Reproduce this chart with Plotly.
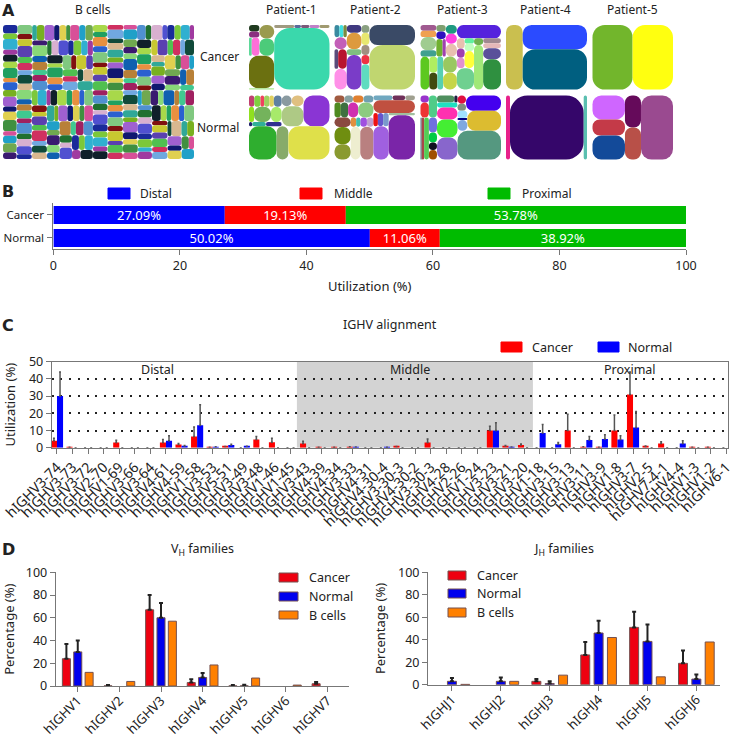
import plotly.graph_objects as go

W, H = 734, 737
FONT = "Noto Sans"
TXT = "#222222"

# ---- panel A, treemap cell areas (px^2) and colours, lists nest as groups
P1_CANCER = [
    [[[(67, "#1f3a1f"), (62, "#8a2f80"), [(50, "#5fd89a"), (140, "#ff6fd8")]],
      [(198, "#9a9a4f"), (257, "#4ccb7a")]],
     (817, "#6b7010"), (32, "#a8e890")],
    [[(60, "#a09a80"), (20, "#5a6a9a"), (25, "#7a5a7a"), (30, "#c080c8"), (30, "#a09a70")],
     (3394, "#3ad8ac")],
]
P1_NORMAL = [
    [[[(60, "#c04070"), (70, "#7fd040"), (40, "#f04060"), (60, "#a0d060"), (50, "#e0d060"), (88, "#6080a0")],
      [(77, "#90e020"), (261, "#74b35c"), (163, "#a7ea6a")],
      [(13, "#20206a"), (57, "#30b098"), (65, "#303090")]],
     [[(107, "#8a9aa0"), (128, "#e0c080")], (440, "#aec985")],
     (798, "#8a35d4")],
    [(922, "#2fae2f"), (390, "#87ab6a"), (1375, "#dfe04a")],
]
P2_CANCER = [
    [[(60, "#3a8aa0"), (50, "#40e0e0"), (41, "#7a8a40")], (148, "#c35fb8"),
     [(73, "#5a4a7a"), (169, "#b8142e")], (255, "#ff90e8")],
    [(113, "#403a80"), (245, "#dd9a3e"), (84, "#7fbf7f"), (510, "#7a3cc8")],
    [(62, "#8aa080"), (98, "#e8e870"), (80, "#a09080"), (74, "#ee3344"), (202, "#5fdcc0")],
    [(914, "#3a4a66"), (2043, "#c0d670")],
]
P2_NORMAL = [
    [[(70, "#a05a40"), (60, "#88a0a0"), (73, "#e08030"), (70, "#70a0b0")],
     [(95, "#4e8a20"), (110, "#3f7040"), (150, "#d030b0"), (230, "#8ccb80")],
     [[(155, "#8a4a40"), (281, "#6f8e10"), (248, "#8a9a30")],
      [[(50, "#e09040"), (40, "#40c0b0"), (60, "#a050e0"), (60, "#c0a0d0")],
       [(313, "#eeeed0"), (431, "#b98080")]]]],
    [[(90, "#70a8c0"), (60, "#70305a"), (46, "#a0a090")],
     (530, "#c05040"),
     [[[(60, "#ee1111"), (70, "#6655cc"), (74, "#7a99cc")], (509, "#a060e0")],
      [(61, "#a0c0a0"), (1169, "#7a25a8")]]],
]
P3_CANCER = [
    [[[(90, "#a05a90"), (100, "#f0a050"), (207, "#a0cc90"), (100, "#40a090")],
      [(60, "#80a070"), (70, "#3010c0"), [(110, "#70b030"), (55, "#a040b0")]],
      [(98, "#1f9a80"), (110, "#ff40e0"), (141, "#e8c0b0")]],
     [(287, "#5cc820"), [(130, "#b0ee60"), (134, "#404a10")], (188, "#58d0b0"),
      [(218, "#99c860"), (231, "#c5d548")]]],
    [(581, "#5522dd"),
     [[[[(80, "#e8c0b0"), (70, "#a040b0"), (81, "#e090d0")],
        [(50, "#60f0a0"), (70, "#c0ffc0"), (159, "#ffff3a")]],
       (364, "#6fd090")],
      [(60, "#70b050"), (403, "#a0e878")],
      [(88, "#a08890"), (88, "#e5b8b8"), (195, "#5a509a"), (538, "#2f9040")]]],
]
P3_NORMAL = [
    [(58, "#9933cc"), (125, "#ee3333"), [(50, "#557080"), (100, "#a84848"), (198, "#55cc55")]],
    [(176, "#50cc88"), (120, "#7070e0"), (80, "#00cc44"), (60, "#101020"), (76, "#a05000")],
    [[(120, "#4f8f5f"), (22, "#202040")], (100, "#20e0c0"), (243, "#ff30b0"),
     (365, "#44ee33"), (449, "#8866cc")],
    [[[(70, "#e01040"), (59, "#809080")], (529, "#4400ee")],
     [[(70, "#a0e0ff"), (20, "#000080"), (105, "#80a8e0")], (667, "#dcbc30")],
     (1232, "#559880")],
]
P4_CANCER = [(1069, "#cabf4f"), [(1543, "#2b4bff"), (2572, "#005f80")]]
P4_NORMAL = [(256, "#e8208a"), (4717, "#35066a"), (211, "#5abfb0")]
P5_CANCER = [(2560, "#72b62c"), (2580, "#ffff10")]
P5_NORMAL = [
    [(775, "#cf66ff"), (526, "#c43a48"), (775, "#134a99")],
    [(512, "#650a5a"), (512, "#b85048")],
    (2048, "#9a4a90"),
]

# B cells repertoire, four blocks of small clones
BCELLS_TOP_LEFT = [120, 80, 150, 70, 100, 90, 140, 60, 110, 130, 75, 95, 160, 85, 105, 65, 125, 90, 70, 115,
                   145, 80, 100, 60, 135, 95, 110, 75, 155, 85, 120, 70, 90, 130, 65, 100, 140, 80, 110, 95,
                   75, 125, 60, 150, 105, 85, 115, 70, 135, 90, 100, 80, 120, 65, 110, 130]
BCELLS_BOTTOM_LEFT = [90, 130, 70, 110, 150, 60, 100, 125, 85, 140, 75, 95, 115, 65, 160, 80, 105, 120, 70, 90,
                      135, 60, 100, 145, 85, 110, 75, 130, 95, 65, 125, 80, 155, 70, 105, 90, 115, 60, 140, 85,
                      100, 75, 130, 110, 65, 120, 95, 80, 150, 70, 105, 125, 90, 60, 135, 100, 85, 115, 75, 110]
BCELLS_TOP_RIGHT = [100, 70, 130, 85, 150, 60, 110, 95, 125, 75, 140, 65, 105, 120, 80, 90, 155, 70, 115, 60,
                    135, 100, 85, 75, 145, 110, 65, 95, 125, 80, 160, 70, 105, 90, 130, 60, 115, 85, 140, 75,
                    100, 120, 65, 95, 150, 80, 110, 70, 135, 90, 60, 125, 105, 85, 145, 75, 115, 65, 100, 130,
                    80, 95, 120, 70]
BCELLS_BOTTOM_RIGHT = [75, 120, 95, 60, 140, 105, 85, 130, 70, 110, 155, 65, 100, 90, 125, 80, 145, 60, 115, 95,
                       70, 135, 85, 105, 65, 150, 100, 75, 120, 90, 60, 130, 110, 80, 160, 70, 95, 125, 65, 105,
                       85, 140, 75, 115, 60, 100, 135, 90, 70, 120, 80, 150, 65, 110, 95, 125, 75, 105, 60, 145,
                       85, 100, 130, 70, 115, 90, 65, 120]
BCELL_COLORS = ["#1a2a9a", "#7cc83a", "#30b0d0", "#a03aa0", "#10202a", "#a8d84a", "#20a060", "#e89040",
                "#2a60d0", "#80c880", "#801010", "#c8c830", "#5a40b0", "#50c050", "#d03060", "#70a8e0",
                "#104a3a", "#d8b890", "#30a898", "#78b020", "#a060d0", "#101870", "#e0d050", "#409040",
                "#d85098", "#20a0c8", "#70a850", "#3a1a70", "#88d878", "#1060b0", "#b88038", "#40c890",
                "#a02060", "#5090d0", "#207030", "#d8b0d0", "#5050d0"]

# ---- panel B
STACK_CATS = ["Normal", "Cancer"]
STACK_SERIES = ["Distal", "Middle", "Proximal"]
STACK_VALUES = [[50.02, 27.09], [11.06, 19.13], [38.92, 53.78]]
STACK_COLORS = ["#0000ff", "#ff0000", "#00bb00"]

# ---- panel C
IGHV_LABELS = ["hIGHV3-74", "hIGHV3-73", "hIGHV3-72", "hIGHV2-70", "hIGHV1-69", "hIGHV3-66", "hIGHV3-64",
               "hIGHV4-61", "hIGHV4-59", "hIGHV1-58", "hIGHV3-53", "hIGHV5-51", "hIGHV3-49", "hIGHV3-48",
               "hIGHV1-46", "hIGHV1-45", "hIGHV3-43", "hIGHV4-39", "hIGHV4-34", "hIGHV3-33", "hIGHV4-31",
               "hIGHV4-30-4", "hIGHV3-30-3", "hIGHV4-30-2", "hIGHV3-30-3", "hIGHV4-28", "hIGHV2-26",
               "hIGHV1-24", "hIGHV3-23", "hIGHV3-21", "hIGHV3-20", "hIGHV1-18", "hIGHV3-15", "hIGHV3-13",
               "hIGHV3-11", "hIGHV3-9", "hIGHV1-8", "hIGHV3-7", "hIGHV2-5", "hIGHV7-4-1", "hIGHV4-4",
               "hIGHV1-3", "hIGHV1-2", "hIGHV6-1"]
IGHV_CANCER = [4, 0.3, 0, 0, 3, 0, 0, 3, 1.8, 6.5, 0.3, 0.7, 0, 4.8, 3.2, 0, 2.5, 0.3, 0.3, 0.5, 0, 0, 0.7, 0,
               3, 0, 0, 0, 10, 1, 1.5, 0, 0, 10, 0.5, 0.2, 10, 31, 0.7, 2.5, 0, 0.2, 0.3, 0]
IGHV_CANCER_ERR = [1.5, None, None, None, 1.3, None, None, 1.8, 0.7, 5.5, None, None, None, 1.7, 2.3, None,
                   1.2, None, None, None, None, None, None, None, 2, None, None, None, 2.5, 0.3, 0.7, None,
                   None, 9.5, None, None, 9, 13, 0.3, 1, None, None, None, None]
IGHV_NORMAL = [30, 0, 0, 0, 0, 0, 0, 4, 1, 13, 0.5, 1.5, 0.8, 0, 0, 0, 0, 0, 0, 0.4, 0, 0.3, 0, 0,
               0, 0, 0, 0, 10, 0.4, 0, 8.5, 2, 0, 4.5, 5, 4.7, 11.8, 0, 0, 2.5, 0, 0, 0]
IGHV_NORMAL_ERR = [14, None, None, None, None, None, None, 3, 0.3, 12, None, 0.5, None, None, None, None, None,
                   None, None, None, None, None, None, None, None, None, None, None, 4.5, None, None, 5, 1,
                   None, 2, 2.5, 2.3, 9.2, None, None, 1.5, None, None, None]

# ---- panel D
VH_LABELS = ["hIGHV1", "hIGHV2", "hIGHV3", "hIGHV4", "hIGHV5", "hIGHV6", "hIGHV7"]
VH_CANCER = [24, 0.1, 67, 3, 0.1, None, 2]
VH_CANCER_ERR = [13, 0.7, 13, 3, 0.7, None, 1.5]
VH_NORMAL = [30, None, 60, 7.5, 0.1, None, None]
VH_NORMAL_ERR = [10, None, 13, 4, 0.9, None, None]
VH_BCELLS = [12, 4, 57, 18.5, 7, 0.8, None]

JH_LABELS = ["hIGHJ1", "hIGHJ2", "hIGHJ3", "hIGHJ4", "hIGHJ5", "hIGHJ6"]
JH_CANCER = [None, None, 3, 26.5, 51, 19]
JH_CANCER_ERR = [None, None, 2, 11.5, 14, 11.5]
JH_NORMAL = [3, 3, 1, 46, 38.5, 5]
JH_NORMAL_ERR = [3, 3.5, 2, 11, 15, 4]
JH_BCELLS = [0.3, 3, 8.5, 42, 7, 38]


def px_x(x0, x1):
    return [max(x0 / W, 0), min(x1 / W, 1)]


def px_y(y0, y1):
    return [max(1 - y1 / H, 0), min(1 - y0 / H, 1)]


def node_sum(node):
    if isinstance(node, tuple):
        return node[0]
    return sum(node_sum(c) for c in node)


# plotly only rounds treemap cells up to marker.pad, and pad insets every nesting level,
# so each flat set of cells gets its own trace and transparent root, grown by the pad
def add_flat(fig, values, colors, x0, x1, y0, y1, radius, packing="squarify", ratio=None):
    ids = ["root"] + ["c%d" % i for i in range(len(values))]
    tiling = dict(packing=packing, pad=0)
    if ratio:
        tiling["squarifyratio"] = ratio
    fig.add_trace(go.Treemap(
        ids=ids, labels=[""] * len(ids), parents=[""] + ["root"] * len(values), values=[sum(values)] + list(values),
        branchvalues="total", sort=False, textinfo="none", hoverinfo="skip",
        marker=dict(colors=["rgba(0,0,0,0)"] + list(colors), line=dict(width=0), cornerradius=radius,
                    depthfade=False, pad=dict(t=radius, l=radius, r=radius, b=radius)),
        tiling=tiling, pathbar=dict(visible=False),
        domain=dict(x=px_x(x0 - radius, x1 + radius), y=px_y(y0 - radius, y1 + radius)),
    ))


def add_panel(fig, node, x0, x1, y0, y1, across=True):
    if isinstance(node, tuple):
        side = min(x1 - x0, y1 - y0)
        radius = max(min(side * 0.5, 3.5 + side * 0.22), 0.5)
        add_flat(fig, [node[0]], [node[1]], x0, x1, y0, y1, radius, packing="dice")
        return
    total = node_sum(node)
    pos = x0 if across else y0
    for c in node:
        step = (x1 - x0 if across else y1 - y0) * node_sum(c) / total
        if across:
            add_panel(fig, c, pos, pos + step, y0, y1, False)
        else:
            add_panel(fig, c, x0, x1, pos, pos + step, True)
        pos += step


fig = go.Figure()

# panel A
left = sum(BCELLS_TOP_LEFT) + sum(BCELLS_BOTTOM_LEFT)
right = sum(BCELLS_TOP_RIGHT) + sum(BCELLS_BOTTOM_RIGHT)
x_mid = 3 + 191 * left / (left + right)
y_left = 25 + 134 * sum(BCELLS_TOP_LEFT) / left
y_right = 25 + 134 * sum(BCELLS_TOP_RIGHT) / right
n = 0
for block, bx0, bx1, by0, by1 in [(BCELLS_TOP_LEFT, 3, x_mid, 25, y_left), (BCELLS_BOTTOM_LEFT, 3, x_mid, y_left, 159),
                                  (BCELLS_TOP_RIGHT, x_mid, 194, 25, y_right), (BCELLS_BOTTOM_RIGHT, x_mid, 194, y_right, 159)]:
    cols = [BCELL_COLORS[(n + i) % len(BCELL_COLORS)] for i in range(len(block))]
    n += len(block)
    add_flat(fig, block, cols, bx0, bx1, by0, by1, 3, ratio=2.2)

add_panel(fig, P1_CANCER, 249, 329.5, 25, 89.5)
add_panel(fig, P1_NORMAL, 249, 329.5, 95.5, 159.5, across=False)
add_panel(fig, P2_CANCER, 334.5, 415, 25, 89.5)
add_panel(fig, P2_NORMAL, 334.5, 415, 95.5, 159.5)
add_panel(fig, P3_CANCER, 420.5, 501, 25, 89.5)
add_panel(fig, P3_NORMAL, 420.5, 501, 95.5, 159.5)
add_panel(fig, P4_CANCER, 506, 587, 25, 89.5)
add_panel(fig, P4_NORMAL, 506, 587, 95.5, 159.5)
add_panel(fig, P5_CANCER, 592.5, 673, 25, 89.5)
add_panel(fig, P5_NORMAL, 592.5, 673, 95.5, 159.5)

# panel B, stacked by hand so the other panels can keep overlay mode
bases = [0, 0]
for name, vals, col in zip(STACK_SERIES, STACK_VALUES, STACK_COLORS):
    fig.add_trace(go.Bar(
        y=STACK_CATS, x=vals, base=list(bases), orientation="h", name=name, width=0.78,
        marker=dict(color=col, line=dict(width=0)), xaxis="x", yaxis="y",
        text=["%.2f%%" % v for v in vals], textposition="inside", insidetextanchor="middle",
        constraintext="none", textangle=0, textfont=dict(color="white", size=13, family=FONT), showlegend=False,
    ))
    bases = [b + v for b, v in zip(bases, vals)]

# panel C
idx = list(range(len(IGHV_LABELS)))
for vals, errs, col, off in [(IGHV_CANCER, IGHV_CANCER_ERR, "#ff0000", -0.39), (IGHV_NORMAL, IGHV_NORMAL_ERR, "#0000ff", 0)]:
    fig.add_trace(go.Bar(
        x=idx, y=vals, width=0.39, offset=off, marker=dict(color=col, line=dict(width=0)),
        error_y=dict(type="data", array=errs, symmetric=False, arrayminus=[0] * len(errs),
                     color="#555555", thickness=1.5, width=1),
        xaxis="x2", yaxis="y2", showlegend=False,
    ))


def add_family(labels, cancer, cancer_err, normal, normal_err, bcells, xa, ya, width):
    pos = list(range(len(labels)))
    rows = [(cancer, cancer_err, "#ee0010", -0.273), (normal, normal_err, "#0000ee", 0), (bcells, None, "#ff8000", 0.273)]
    for vals, errs, col, shift in rows:
        err = None
        if errs:
            err = dict(type="data", array=errs, symmetric=False, arrayminus=[0] * len(errs),
                       color="#222222", thickness=2, width=2)
        fig.add_trace(go.Bar(
            x=pos, y=vals, width=width, offset=shift - width / 2,
            marker=dict(color=col, line=dict(color="#75504f", width=1)),
            error_y=err, xaxis=xa, yaxis=ya, showlegend=False,
        ))


add_family(VH_LABELS, VH_CANCER, VH_CANCER_ERR, VH_NORMAL, VH_NORMAL_ERR, VH_BCELLS, "x3", "y3", 0.193)
add_family(JH_LABELS, JH_CANCER, JH_CANCER_ERR, JH_NORMAL, JH_NORMAL_ERR, JH_BCELLS, "x4", "y4", 0.184)

tick_font = dict(family=FONT, size=12.5, color=TXT)
slant_font = dict(family=FONT, size=13, color=TXT)
title_font = dict(family=FONT, size=13, color=TXT)
axis = dict(showgrid=False, zeroline=False, showline=True, linecolor="#777777", linewidth=1,
            ticks="outside", ticklen=5, tickcolor="#777777", tickfont=tick_font, automargin=False)

fig.update_layout(
    width=W, height=H, margin=dict(l=0, r=0, t=0, b=0), barmode="overlay",
    paper_bgcolor="white", plot_bgcolor="rgba(0,0,0,0)", showlegend=False,
    xaxis=dict(axis, domain=px_x(53.4, 686), range=[0, 100], tickvals=[0, 20, 40, 60, 80, 100], anchor="y",
               title=dict(text="Utilization (%)", font=title_font, standoff=8)),
    yaxis=dict(axis, domain=px_y(203, 249), range=[-0.48, 1.52], type="category", ticklabelstandoff=1,
               tickfont=dict(family=FONT, size=11.5, color=TXT),
               categoryorder="array", categoryarray=STACK_CATS, anchor="x"),
    xaxis2=dict(axis, domain=px_x(51.7, 728.3), range=[-0.34, 43.12], tickvals=idx, ticktext=IGHV_LABELS,
                tickangle=-45, tickfont=dict(family=FONT, size=14, color=TXT), ticklabeloverflow="allow",
                anchor="y2", mirror=True),
    yaxis2=dict(axis, domain=px_y(361.7, 447.7), range=[0, 50], tickvals=[0, 10, 20, 30, 40, 50], anchor="x2",
                mirror=True, showgrid=True, gridcolor="#222222", gridwidth=2, griddash="2px 6.7px",
                title=dict(text="Utilization (%)", font=title_font, standoff=10)),
    xaxis3=dict(axis, domain=px_x(55.7, 348.7), range=[-0.53, 6.51], tickvals=list(range(7)), ticktext=VH_LABELS,
                tickangle=-45, tickfont=slant_font, ticklabelstandoff=-4, anchor="y3"),
    yaxis3=dict(axis, domain=px_y(572.3, 686), range=[0, 100], tickvals=[0, 20, 40, 60, 80, 100], anchor="x3",
                title=dict(text="Percentage (%)", font=title_font, standoff=8)),
    xaxis4=dict(axis, domain=px_x(428, 720.3), range=[-0.49, 5.49], tickvals=list(range(6)), ticktext=JH_LABELS,
                tickangle=-45, tickfont=slant_font, ticklabelstandoff=-4, anchor="y4"),
    yaxis4=dict(axis, domain=px_y(572.3, 684.7), range=[0, 100], tickvals=[0, 20, 40, 60, 80, 100], anchor="x4",
                title=dict(text="Percentage (%)", font=title_font, standoff=9)),
)

# gray Middle band in panel C
fig.add_shape(type="rect", xref="x2", yref="y2", x0=15.41, x1=30.57, y0=0, y1=50,
              fillcolor="#d3d3d3", line_width=0, layer="below")


def text(x, y, s, anchor="center", size=12.5, bold=False, color=TXT):
    fig.add_annotation(x=x / W, y=1 - y / H, xref="paper", yref="paper", text="<b>%s</b>" % s if bold else s,
                       showarrow=False, xanchor=anchor, yanchor="middle",
                       font=dict(family="DejaVu Sans" if bold else FONT, size=size, color=color))


def swatch(x0, x1, y0, y1, col, line="#75504f"):
    fig.add_shape(type="rect", xref="paper", yref="paper", x0=x0 / W, x1=x1 / W, y0=1 - y1 / H, y1=1 - y0 / H,
                  fillcolor=col, line=dict(color=line, width=1))


for s, x, y in [("A", 8, 10), ("B", 8, 192), ("C", 8, 325), ("D", 8, 549)]:
    text(x, y, s, size=16, bold=True)
for s, x in [("B cells", 93), ("Patient-1", 291), ("Patient-2", 375), ("Patient-3", 462),
             ("Patient-4", 545), ("Patient-5", 632)]:
    text(x, 9, s, size=12)
text(219, 57, "Cancer", size=12)
text(218, 127, "Normal", size=12)

for s, col, x0, tx in zip(STACK_SERIES, STACK_COLORS, [108, 300, 488], [138, 332, 520]):
    swatch(x0, x0 + 22, 188, 199, col, line=col)
    text(tx, 193, s, anchor="left", size=12)

text(390, 324, "IGHV alignment")
swatch(501, 522, 342, 352, "#ff0000", line="#ff0000")
text(530, 347, "Cancer", anchor="left")
swatch(598, 619, 342, 352, "#0000ff", line="#0000ff")
text(626, 347, "Normal", anchor="left")
text(157, 369, "Distal")
text(410, 369, "Middle")
text(630, 369, "Proximal")

text(202, 549, "V<sub>H</sub> families")
text(564, 549, "J<sub>H</sub> families")
for s, col, y0, y1 in [("Cancer", "#ee0010", 573, 582), ("Normal", "#0000ee", 592, 601), ("B cells", "#ff8000", 611, 619)]:
    swatch(279, 298, y0, y1, col)
    text(307, (y0 + y1) / 2, s, anchor="left")
for s, col, y0, y1 in [("Cancer", "#ee0010", 571, 580), ("Normal", "#0000ee", 589, 598), ("B cells", "#ff8000", 608, 617)]:
    swatch(448, 466, y0, y1, col)
    text(475, (y0 + y1) / 2, s, anchor="left")

fig.write_html("out.html", config=dict(displayModeBar=False), post_script="document.body.style.margin='0';")
